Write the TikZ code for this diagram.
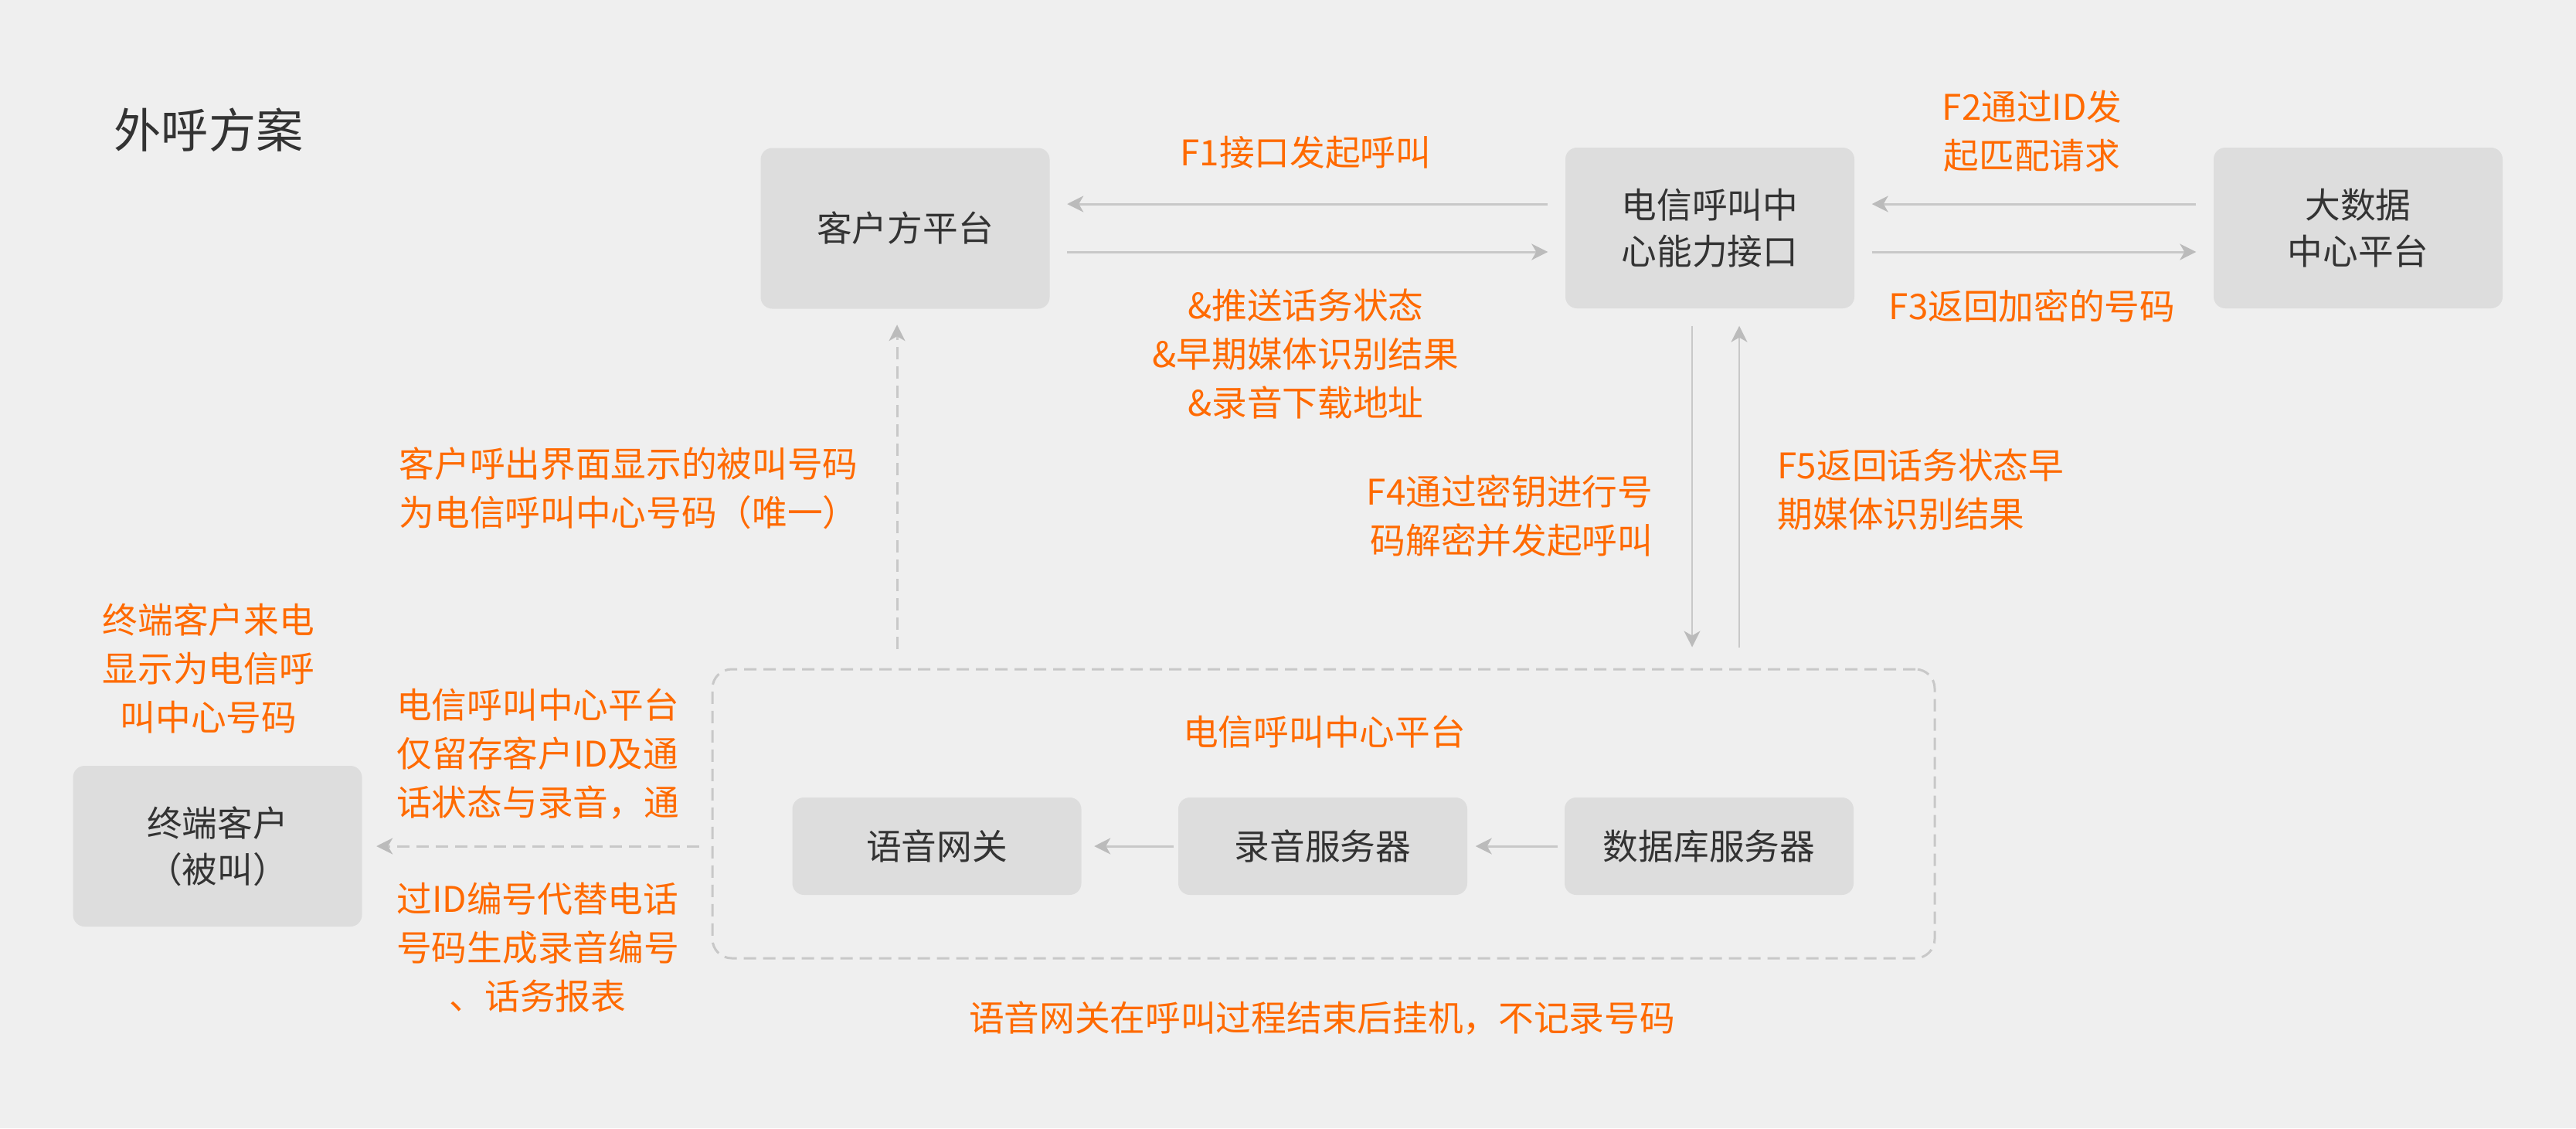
\documentclass[tikz,border=0pt]{standalone}
\usepackage{fontspec}
\setmainfont{Noto Sans CJK SC}
\usetikzlibrary{arrows.meta}
\definecolor{bgc}{HTML}{EFEFEF}
\definecolor{boxc}{HTML}{DDDDDD}
\definecolor{linec}{HTML}{C8C8C8}
\definecolor{tipc}{HTML}{BBBBBB}
\definecolor{orng}{HTML}{FF6A00}
\definecolor{txtc}{HTML}{333333}
\begin{document}
\begin{tikzpicture}[
	box/.style={fill=boxc,rounded corners=0.15cm,minimum width=3.74cm,minimum height=2.08cm,
		text=txtc,align=center,font=\fontsize{13pt}{17pt}\selectfont},
	sbox/.style={box,minimum height=1.26cm},
	note/.style={text=orng,align=center,inner sep=0pt,font=\fontsize{13pt}{17.9pt}\selectfont},
	arr/.style={draw=linec,line width=0.85pt,-{Stealth[length=0.21cm,width=0.21cm,inset=0.06cm,color=tipc]}},
	link/.style={arr,shorten >=0.22cm,shorten <=0.22cm},
	dasharr/.style={arr,dash pattern=on 0.16cm off 0.09cm}
	]

\useasboundingbox (0,0) rectangle (33.34,-14.6);
\fill[bgc] (0,0) rectangle (33.34,-14.6);

\node[anchor=west,inner sep=0pt,text=txtc,font=\fontsize{17.4pt}{20pt}\selectfont] (title) at (1.47,-1.68) {外呼方案};

% top row
\node[box] (khpt) at (11.715,-2.955) {客户方平台};
\node[box] (dxjk) at (22.13,-2.95) {电信呼叫中\\心能力接口};
\node[box] (dsj) at (30.52,-2.95) {大数据\\中心平台};

\node[box] (zdkh) at (2.815,-10.95) {终端客户\\（被叫）};

% platform
\node[draw=linec,line width=0.85pt,dash pattern=on 0.16cm off 0.09cm,rounded corners=0.25cm,
	minimum width=15.82cm,minimum height=3.74cm] (pt) at (17.13,-10.53) {};
\node[sbox] (yywg) at (12.125,-10.95) {语音网关};
\node[sbox] (lyfw) at (17.12,-10.95) {录音服务器};
\node[sbox] (sjk) at (22.12,-10.95) {数据库服务器};

\foreach \a/\b in {dxjk/khpt,dsj/dxjk}
{
\draw[link] ([yshift=0.31cm]\a.west) -- ([yshift=0.31cm]\a.west -| \b.east);
\draw[link] ([yshift=-0.31cm]\a.west -| \b.east) -- ([yshift=-0.31cm]\a.west);
}

\draw[arr,line width=0.6pt,shorten <=0.22cm,shorten >=0.27cm] ([xshift=-0.23cm]dxjk.south) -- ([xshift=-0.23cm]dxjk.south |- pt.north);
\draw[arr,line width=0.6pt,shorten <=0.27cm,shorten >=0.22cm] ([xshift=0.38cm]dxjk.south |- pt.north) -- ([xshift=0.38cm]dxjk.south);

\draw[arr,shorten <=0.08cm,shorten >=0.1cm] (sjk) -- (lyfw);
\draw[arr,shorten <=0.05cm,shorten >=0.16cm] (lyfw) -- (yywg);

\coordinate (c1) at (11.61,-8.40);
\draw[dasharr,shorten >=0.2cm] (c1) -- (c1 |- khpt.south);
\draw[dasharr,shorten <=0.16cm,shorten >=0.18cm] (pt.west |- zdkh.east) -- (zdkh.east);

% labels
\node[note] (f1) at (16.90,-1.97) {F1接口发起呼叫};
\node[note] (ts) at (16.90,-4.58) {\&推送话务状态\\\&早期媒体识别结果\\\&录音下载地址};
\node[note] (f2) at (26.30,-1.70) {F2通过ID发\\起匹配请求};
\node[note] (f3) at (26.30,-3.96) {F3返回加密的号码};
\node[note,anchor=east,align=right] (f4) at (21.40,-6.68) {F4通过密钥进行号\\码解密并发起呼叫};
\node[note,anchor=west,align=left] (f5) at (23.00,-6.34) {F5返回话务状态早\\期媒体识别结果};
\node[note,anchor=west,align=left] (khhc) at (5.16,-6.32) {客户呼出界面显示的被叫号码\\为电信呼叫中心号码（唯一）};
\node[note] (zdld) at (2.70,-8.65) {终端客户来电\\显示为电信呼\\叫中心号码};
\node[note] (lc1) at (6.96,-9.76) {电信呼叫中心平台\\仅留存客户ID及通\\话状态与录音，通};
\node[note] (lc2) at (6.96,-12.26) {过ID编号代替电话\\号码生成录音编号\\、话务报表};
\node[note] (pttl) at (17.14,-9.47) {电信呼叫中心平台};
\node[note] (gj) at (17.11,-13.18) {语音网关在呼叫过程结束后挂机，不记录号码};

\end{tikzpicture}
\end{document}
